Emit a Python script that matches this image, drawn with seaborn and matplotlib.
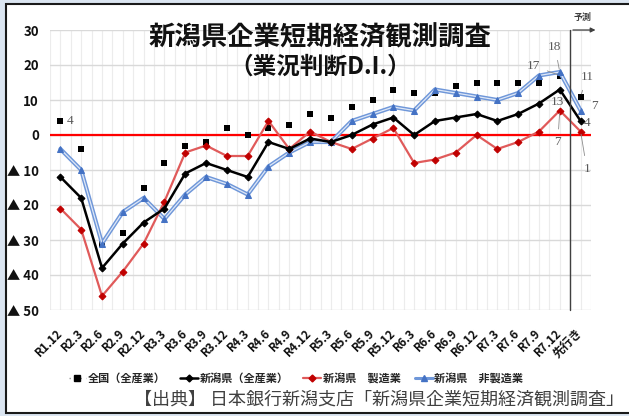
import matplotlib
matplotlib.use("Agg")
import matplotlib.pyplot as plt
from matplotlib.patches import Rectangle
from matplotlib.lines import Line2D
import numpy as np
import pandas as pd
import seaborn as sns

# ---------------- data ----------------
categories = ["R1.12", "R2.3", "R2.6", "R2.9", "R2.12", "R3.3", "R3.6", "R3.9", "R3.12",
              "R4.3", "R4.6", "R4.9", "R4.12", "R5.3", "R5.6", "R5.9", "R5.12", "R6.3",
              "R6.6", "R6.9", "R6.12", "R7.3", "R7.6", "R7.9", "R7.12", "先行き"]
zenkoku_all = [4, -4, -31, -28, -15, -8, -3, -2, 2, 0, 2, 3, 6, 5, 8, 10, 13, 12,
               12, 14, 15, 15, 15, 15, 17, 11]
niigata_all = [-12, -18, -38, -31, -25, -21, -11, -8, -10, -12, -2, -4, -1, -2, 0, 3, 5, 0,
               4, 5, 6, 4, 6, 9, 13, 4]
niigata_mfg = [-21, -27, -46, -39, -31, -19, -5, -3, -6, -6, 4, -4, 1, -2, -4, -1, 2, -8,
               -7, -5, 0, -4, -2, 1, 7, 1]
niigata_nonmfg = [-4, -10, -31, -22, -18, -24, -17, -12, -14, -17, -9, -5, -2, -2, 4, 6, 8, 7,
                  13, 12, 11, 10, 12, 17, 18, 7]
ytick_values = [30, 20, 10, 0, -10, -20, -30, -40, -50]
ytick_labels = ["30", "20", "10", "0", "▲ 10", "▲ 20", "▲ 30", "▲ 40", "▲ 50"]
series_names = ["全国（全産業）", "新潟県（全産業）", "新潟県　製造業", "新潟県　非製造業"]
title_text = "新潟県企業短期経済観測調査"
subtitle_text = "（業況判断D.I.）"
source_text = "【出典】 日本銀行新潟支店「新潟県企業短期経済観測調査」"
forecast_text = "予測"

idx = np.arange(len(categories))
df = pd.DataFrame({"i": idx, "zenkoku": zenkoku_all, "all": niigata_all,
                   "mfg": niigata_mfg, "nonmfg": niigata_nonmfg})

# ---------------- style ----------------
sns.set_theme(style="white")
plt.rcParams["font.family"] = ["Noto Sans CJK JP", "DejaVu Sans"]
narrow = ["Liberation Sans Narrow", "Noto Sans CJK JP", "DejaVu Sans"]

W, H = 629, 416
fig = plt.figure(figsize=(W / 100, H / 100), dpi=100, facecolor="#dbe5f1")
frame = Rectangle((6.5 / W, 3 / H), 1.0, (413 - 3.5) / H, transform=fig.transFigure,
                  facecolor="white", edgecolor="#1a1a1a", lw=1.5, zorder=-5)
fig.patches.append(frame)

ax = fig.add_axes([50 / W, 1 - 310 / H, 541 / W, 280 / H])
ax.set_facecolor("white")
ax.set_xlim(-0.5, len(categories) - 0.5)
ax.set_ylim(-50, 30)

# grid
ax.set_yticks(ytick_values)
ax.set_yticklabels(ytick_labels, family=narrow, fontsize=9.5, fontweight="bold", color="#111111")
ax.set_xticks(idx)
ax.set_xticklabels(categories, family=narrow, fontsize=8.5, fontweight="bold", color="#111111",
                   rotation=45, ha="right", va="center", rotation_mode="anchor")
ax.set_xticks(np.arange(-0.5, len(categories), 1.0), minor=True)
ax.tick_params(axis="both", which="both", length=0)
ax.tick_params(axis="x", pad=15)
ax.tick_params(axis="y", pad=8)
ax.grid(axis="y", color="#d9d9d9", lw=1.0)
ax.grid(axis="x", which="both", color="#ececec", lw=0.8)
for s in ax.spines.values():
    s.set_visible(False)

# zero line
ax.axhline(0, color="#ff0000", lw=1.6, zorder=2)

# series
sns.scatterplot(data=df, x="i", y="zenkoku", ax=ax, marker="s", s=16, color="black",
                edgecolor="black", linewidth=0, zorder=3, legend=False)
sns.lineplot(data=df, x="i", y="nonmfg", ax=ax, color="#6f97d9", lw=3.0, zorder=4, legend=False)
sns.lineplot(data=df, x="i", y="nonmfg", ax=ax, color="#dfe8f7", lw=0.9, marker="^",
             markersize=4.5, markerfacecolor="#4472c4", markeredgecolor="#4472c4",
             zorder=4, legend=False)
sns.lineplot(data=df, x="i", y="mfg", ax=ax, color="#e05a5a", lw=1.6, marker="D",
             markersize=3.5, markerfacecolor="#c00000", markeredgecolor="#c00000",
             zorder=5, legend=False)
sns.lineplot(data=df, x="i", y="all", ax=ax, color="black", lw=1.8, marker="D",
             markersize=3.5, markerfacecolor="black", markeredgecolor="black",
             zorder=6, legend=False)
ax.set_xlabel("")
ax.set_ylabel("")

# data labels
lab_kw = dict(textcoords="offset points", fontsize=9.5, color="#595959",
              family=["Liberation Serif", "DejaVu Serif"], ha="center", va="center", zorder=8)
lead = dict(arrowstyle="-", color="#8c8c8c", lw=0.6, shrinkA=3, shrinkB=2)
last, prev = len(categories) - 1, len(categories) - 2
ax.annotate(str(zenkoku_all[0]), xy=(0, zenkoku_all[0]), xytext=(7, 0), **lab_kw)
ax.annotate(str(zenkoku_all[prev]), xy=(prev, zenkoku_all[prev]), xytext=(-19, 7),
            arrowprops=lead, **lab_kw)
ax.annotate(str(niigata_nonmfg[prev]), xy=(prev, niigata_nonmfg[prev]), xytext=(-3.5, 18),
            arrowprops=lead, **lab_kw)
ax.annotate(str(niigata_all[prev]), xy=(prev, niigata_all[prev]), xytext=(-1.5, -9), **lab_kw)
ax.annotate(str(niigata_mfg[prev]), xy=(prev, niigata_mfg[prev]), xytext=(-1.5, -23),
            arrowprops=lead, **lab_kw)
ax.annotate(str(zenkoku_all[last]), xy=(last, zenkoku_all[last]), xytext=(4.5, 14),
            arrowprops=lead, **lab_kw)
ax.annotate(str(niigata_nonmfg[last]), xy=(last, niigata_nonmfg[last]), xytext=(10, 3.5), **lab_kw)
ax.annotate(str(niigata_all[last]), xy=(last, niigata_all[last]), xytext=(5, -1.5), **lab_kw)
ax.annotate(str(niigata_mfg[last]), xy=(last, niigata_mfg[last]), xytext=(4.5, -27),
            arrowprops=lead, **lab_kw)

# forecast divider + arrow
ax.plot([last - 0.5, last - 0.5], [-50, 30], color="#404040", lw=1.0, zorder=7, clip_on=False)
ax.annotate("", xy=(last + 0.85, 30), xytext=(last - 0.5, 30),
            arrowprops=dict(arrowstyle="-|>", color="#404040", lw=0.9, mutation_scale=7),
            annotation_clip=False, zorder=7)
ax.text(last + 0.1, 33.5, forecast_text, fontsize=6.5, color="#404040", ha="center",
        va="center", fontweight="bold", clip_on=False)

# titles
fig.text(320 / W, 1 - 38 / H, title_text, fontsize=19, fontweight="bold", ha="center",
         va="center", color="#111111")
fig.text(320 / W, 1 - 67 / H, subtitle_text, fontsize=17, fontweight="bold", ha="center",
         va="center", color="#111111")

# legend
handles = [
    Line2D([], [], color="#999999", lw=1, ls=(0, (1, 3)), marker="s", markersize=4,
           markerfacecolor="black", markeredgecolor="black"),
    Line2D([], [], color="black", lw=1.8, marker="D", markersize=3.5),
    Line2D([], [], color="#e05a5a", lw=1.6, marker="D", markersize=3.5,
           markerfacecolor="#c00000", markeredgecolor="#c00000"),
    Line2D([], [], color="#6f97d9", lw=2.2, marker="^", markersize=4.5,
           markerfacecolor="#4472c4", markeredgecolor="#4472c4"),
]
fig.legend(handles, series_names, loc="center", bbox_to_anchor=(296 / W, 1 - 378 / H),
           ncol=4, frameon=False, handlelength=1.6, handletextpad=0.15, columnspacing=1.3,
           prop=dict(size=8, weight="bold", family=["Noto Sans CJK JP", "DejaVu Sans"]))

# source
fig.text(624 / W, 1 - 400 / H, source_text, fontsize=13, ha="right", va="center",
         color="#404040")

fig.savefig("out.png", dpi=100, facecolor=fig.get_facecolor())
